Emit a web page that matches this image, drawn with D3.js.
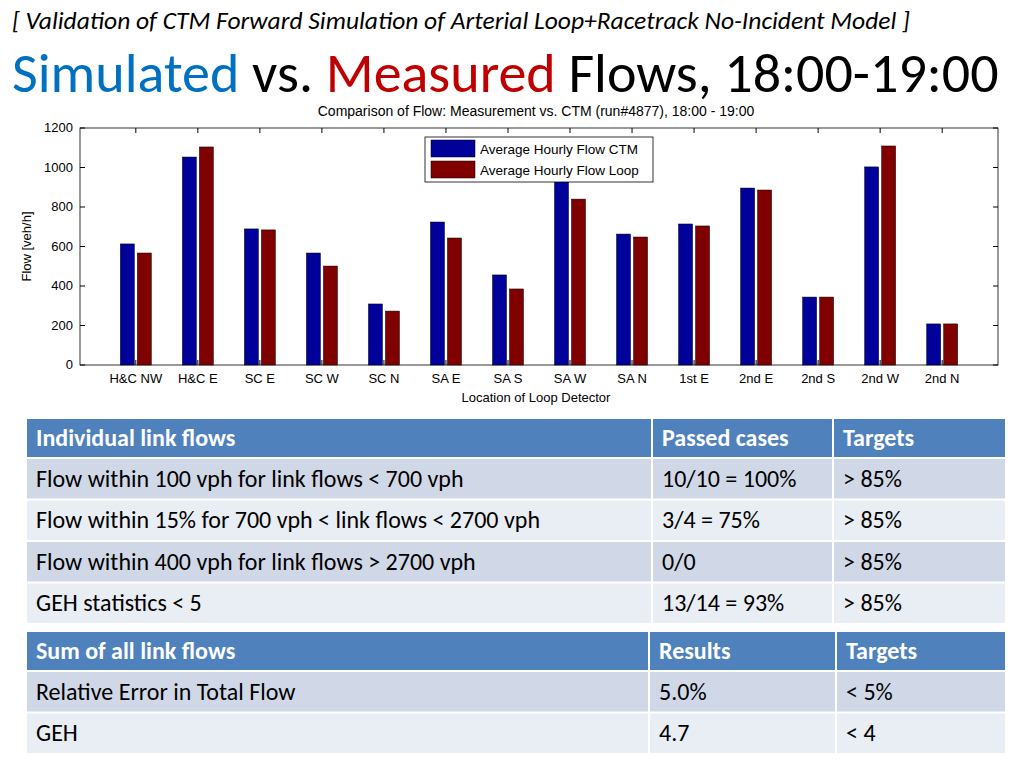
<!DOCTYPE html>
<html><head><meta charset="utf-8">
<script src="https://cdn.jsdelivr.net/npm/d3@7"></script>
<style>body{margin:0;background:#fff;}</style>
</head><body>
<svg id="c" width="1024" height="768"></svg>
<script>
var categories = ["H&C NW","H&C E","SC E","SC W","SC N","SA E","SA S","SA W","SA N","1st E","2nd E","2nd S","2nd W","2nd N"]
var ctmFlow  = [613,1053,689,567,309,724,456,935,663,714,896,344,1003,208]
var loopFlow = [567,1104,684,501,273,643,385,840,648,704,886,344,1109,208]
var yTicks = [0,200,400,600,800,1000,1200]

var table1Head = ["Individual link flows","Passed cases","Targets"]
var table1Rows = [
  ["Flow within 100 vph for link flows < 700 vph","10/10 = 100%","> 85%"],
  ["Flow within 15% for 700 vph < link flows < 2700 vph","3/4 = 75%","> 85%"],
  ["Flow within 400 vph for link flows > 2700 vph","0/0","> 85%"],
  ["GEH statistics < 5","13/14 = 93%","> 85%"]
]
var table2Head = ["Sum of all link flows","Results","Targets"]
var table2Rows = [
  ["Relative Error in Total Flow","5.0%","< 5%"],
  ["GEH","4.7","< 4"]
]

var svg = d3.select("#c")
var cal = "Carlito, Calibri, 'Open Sans', sans-serif"

svg.append("text").attr("x",12).attr("y",29).attr("font-family",cal).attr("font-style","italic")
  .attr("font-size",25.5).text("[ Validation of CTM Forward Simulation of Arterial Loop+Racetrack No-Incident Model ]")

var t = svg.append("text").attr("x",12).attr("y",92).attr("font-family",cal).attr("font-size",56)
t.append("tspan").attr("fill","#0070c0").text("Simulated")
t.append("tspan").attr("fill","#000").text(" vs. ")
t.append("tspan").attr("fill","#c00000").text("Measured")
t.append("tspan").attr("fill","#000").text(" Flows, 18:00-19:00")

// chart
var L=80, R=998, T=128, B=365
var x = d3.scalePoint().domain(categories).range([L,R]).padding(0.9)
var y = d3.scaleLinear().domain([0,1200]).range([B,T])
var bw = 14
var arial = "Arial, 'Liberation Sans', sans-serif"
var fs = 13

svg.append("rect").attr("x",L).attr("y",T).attr("width",R-L).attr("height",B-T)
  .attr("fill","none").attr("stroke","#000").attr("stroke-width",0.8)

svg.append("text").attr("x",(L+R)/2-3).attr("y",116).attr("text-anchor","middle")
  .attr("font-family",arial).attr("font-size",14).text("Comparison of Flow: Measurement vs. CTM (run#4877), 18:00 - 19:00")

var g = svg.append("g")
g.selectAll(".ctm").data(ctmFlow).enter().append("rect")
  .attr("x",function(d,i){return x(categories[i])-bw-1.5})
  .attr("y",function(d){return y(d)}).attr("width",bw)
  .attr("height",function(d){return B-y(d)}).attr("fill","#00009a").attr("stroke","#000").attr("stroke-width",0.5)
g.selectAll(".loop").data(loopFlow).enter().append("rect")
  .attr("x",function(d,i){return x(categories[i])+1.5})
  .attr("y",function(d){return y(d)}).attr("width",bw)
  .attr("height",function(d){return B-y(d)}).attr("fill","#800000").attr("stroke","#000").attr("stroke-width",0.5)

yTicks.forEach(function(v){
  svg.append("line").attr("x1",L).attr("x2",L+5).attr("y1",y(v)).attr("y2",y(v)).attr("stroke","#000")
  svg.append("line").attr("x1",R-5).attr("x2",R).attr("y1",y(v)).attr("y2",y(v)).attr("stroke","#000")
  svg.append("text").attr("x",L-7).attr("y",y(v)+4).attr("text-anchor","end")
    .attr("font-family",arial).attr("font-size",fs).text(v)
})
categories.forEach(function(c){
  svg.append("line").attr("x1",x(c)).attr("x2",x(c)).attr("y1",B).attr("y2",B-5).attr("stroke","#000")
  svg.append("line").attr("x1",x(c)).attr("x2",x(c)).attr("y1",T).attr("y2",T+5).attr("stroke","#000")
  svg.append("text").attr("x",x(c)).attr("y",B+18).attr("text-anchor","middle")
    .attr("font-family",arial).attr("font-size",fs).text(c)
})
svg.append("text").attr("x",(L+R)/2-3).attr("y",402).attr("text-anchor","middle")
  .attr("font-family",arial).attr("font-size",fs).text("Location of Loop Detector")
svg.append("text").attr("transform","translate(31,"+((T+B)/2)+") rotate(-90)").attr("text-anchor","middle")
  .attr("font-family",arial).attr("font-size",fs).text("Flow [veh/h]")

// legend
var lg = svg.append("g").attr("transform","translate(425,137)")
lg.append("rect").attr("width",228).attr("height",45).attr("fill","#fff").attr("stroke","#000").attr("stroke-width",0.8)
;[["Average Hourly Flow CTM","#00009a"],["Average Hourly Flow Loop","#800000"]].forEach(function(d,i){
  lg.append("rect").attr("x",6).attr("y",3+i*21).attr("width",44).attr("height",17).attr("fill",d[1]).attr("stroke","#000").attr("stroke-width",0.5)
  lg.append("text").attr("x",55).attr("y",17+i*21).attr("font-family",arial).attr("font-size",13.5).text(d[0])
})

// tables
function drawTable(top, cols, head, rows){
  var all = [head].concat(rows)
  var yy = top
  all.forEach(function(r,ri){
    var h = ri==0 ? 40 : 41.5
    for (var ci=0; ci<3; ci++){
      var fill = ri==0 ? "#4f81bd" : (ri%2==1 ? "#d0d8e8" : "#e9edf4")
      svg.append("rect").attr("x",cols[ci]).attr("y",yy).attr("width",cols[ci+1]-cols[ci]-2)
        .attr("height",h-2).attr("fill",fill)
      svg.append("text").attr("x",cols[ci]+9).attr("y",yy+h/2+7)
        .attr("font-family",cal).attr("font-size",24)
        .attr("font-weight",ri==0?"bold":"normal").attr("fill",ri==0?"#fff":"#000").text(r[ci])
    }
    yy += h
  })
}
drawTable(419,[27,653,834,1007],table1Head,table1Rows)
drawTable(632,[27,650,837,1007],table2Head,table2Rows)
</script>
</body></html>
